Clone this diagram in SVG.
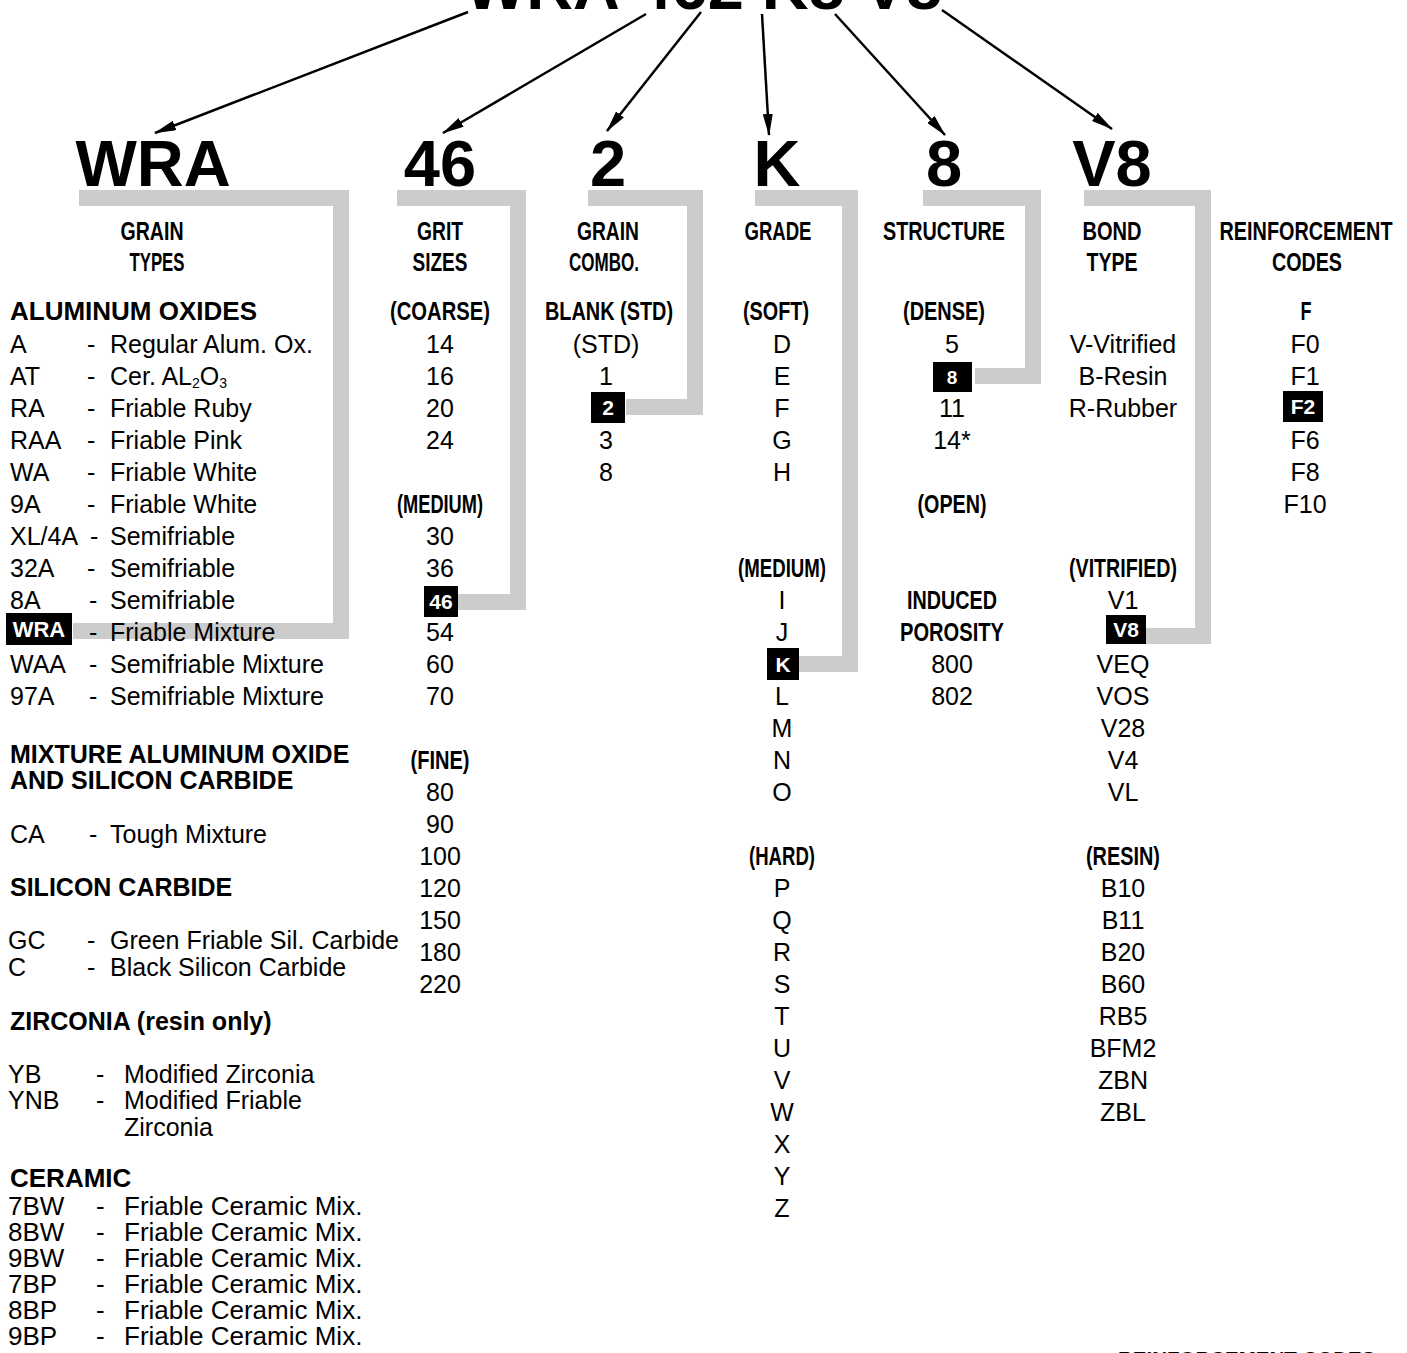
<svg xmlns="http://www.w3.org/2000/svg" width="1407" height="1353" viewBox="0 0 1407 1353">
<style>
text{font-family:"Liberation Sans",Arial,Helvetica,sans-serif;fill:#000}
.b{font-size:25px}
.m{font-size:25px;text-anchor:middle}
.s{font-size:25px;font-weight:bold}
.c{font-size:25px;font-weight:bold;text-anchor:middle}
.big{font-size:65px;font-weight:bold;text-anchor:middle}
.hl{font-size:21px;font-weight:bold;text-anchor:middle;fill:#fff}
.br{fill:none;stroke:#cccccc;stroke-width:16;stroke-linejoin:miter}
.ar{fill:none;stroke:#000;stroke-width:2.5}
</style>
<defs>
<marker id="ah" viewBox="0 0 22 10" refX="21" refY="5" markerWidth="22" markerHeight="10" markerUnits="userSpaceOnUse" orient="auto">
<path d="M0,0 L22,5 L0,10 z" fill="#000"/>
</marker>
</defs>
<rect width="1407" height="1353" fill="#fff"/>

<g id="connectors">
<polyline class="br" points="79,198 341,198 341,631 73,631"/>
<polyline class="br" points="397,198 518,198 518,602 458,602"/>
<polyline class="br" points="588,198 695,198 695,407 626,407"/>
<polyline class="br" points="755,198 850,198 850,664 799,664"/>
<polyline class="br" points="923,198 1033,198 1033,376 975,376"/>
<polyline class="br" points="1084,198 1203,198 1203,636 1146,636"/>
<line class="ar" x1="468" y1="12" x2="155" y2="133" marker-end="url(#ah)"/>
<line class="ar" x1="646" y1="14" x2="443" y2="133" marker-end="url(#ah)"/>
<line class="ar" x1="701" y1="12" x2="607" y2="131" marker-end="url(#ah)"/>
<line class="ar" x1="762" y1="14" x2="769" y2="135" marker-end="url(#ah)"/>
<line class="ar" x1="835" y1="14" x2="945" y2="135" marker-end="url(#ah)"/>
<line class="ar" x1="942" y1="10" x2="1112" y2="129" marker-end="url(#ah)"/>
</g>

<g id="title">
<text x="465" y="9" style="font-size:64px;font-weight:bold" textLength="477" lengthAdjust="spacingAndGlyphs">WRA 462 K8 V8</text>
</g>

<g id="col-grain">
<text class="big" x="153" y="186">WRA</text>
<text class="c" x="152" y="240" textLength="63" lengthAdjust="spacingAndGlyphs">GRAIN</text>
<text class="c" x="157" y="271" textLength="55" lengthAdjust="spacingAndGlyphs">TYPES</text>
<text class="s" x="10" y="320" style="font-size:26px">ALUMINUM OXIDES</text>
<text class="b" x="10" y="353">A</text><text class="b" x="87" y="353">-</text><text class="b" x="110" y="353">Regular Alum. Ox.</text>
<text class="b" x="10" y="385">AT</text><text class="b" x="87" y="385">-</text><text class="b" x="110" y="385">Cer. AL<tspan font-size="14" dy="3">2</tspan><tspan dy="-3">O</tspan><tspan font-size="14" dy="3">3</tspan></text>
<text class="b" x="10" y="417">RA</text><text class="b" x="87" y="417">-</text><text class="b" x="110" y="417">Friable Ruby</text>
<text class="b" x="10" y="449">RAA</text><text class="b" x="87" y="449">-</text><text class="b" x="110" y="449">Friable Pink</text>
<text class="b" x="10" y="481">WA</text><text class="b" x="87" y="481">-</text><text class="b" x="110" y="481">Friable White</text>
<text class="b" x="10" y="513">9A</text><text class="b" x="87" y="513">-</text><text class="b" x="110" y="513">Friable White</text>
<text class="b" x="10" y="545">XL/4A</text><text class="b" x="90" y="545">-</text><text class="b" x="110" y="545">Semifriable</text>
<text class="b" x="10" y="577">32A</text><text class="b" x="87" y="577">-</text><text class="b" x="110" y="577">Semifriable</text>
<text class="b" x="10" y="609">8A</text><text class="b" x="89" y="609">-</text><text class="b" x="110" y="609">Semifriable</text>
<rect x="6" y="613" width="66" height="32" fill="#000"/>
<text class="hl" x="39" y="637" style="font-size:22px">WRA</text><text class="b" x="89" y="641">-</text><text class="b" x="110" y="641">Friable Mixture</text>
<text class="b" x="10" y="673">WAA</text><text class="b" x="89" y="673">-</text><text class="b" x="110" y="673">Semifriable Mixture</text>
<text class="b" x="10" y="705">97A</text><text class="b" x="89" y="705">-</text><text class="b" x="110" y="705">Semifriable Mixture</text>
<text class="s" x="10" y="763">MIXTURE ALUMINUM OXIDE</text>
<text class="s" x="10" y="789">AND SILICON CARBIDE</text>
<text class="b" x="10" y="843">CA</text><text class="b" x="89" y="843">-</text><text class="b" x="110" y="843">Tough Mixture</text>
<text class="s" x="10" y="896">SILICON CARBIDE</text>
<text class="b" x="8" y="949">GC</text><text class="b" x="87" y="949">-</text><text class="b" x="110" y="949">Green Friable Sil. Carbide</text>
<text class="b" x="8" y="976">C</text><text class="b" x="87" y="976">-</text><text class="b" x="110" y="976">Black Silicon Carbide</text>
<text class="s" x="10" y="1030">ZIRCONIA (resin only)</text>
<text class="b" x="8" y="1083">YB</text><text class="b" x="96" y="1083">-</text><text class="b" x="124" y="1083">Modified Zirconia</text>
<text class="b" x="8" y="1109">YNB</text><text class="b" x="96" y="1109">-</text><text class="b" x="124" y="1109">Modified Friable</text>
<text class="b" x="124" y="1136">Zirconia</text>
<text class="s" x="10" y="1187" style="font-size:26px">CERAMIC</text>
<text class="b" x="8" y="1215" style="font-size:26px">7BW</text><text class="b" x="96" y="1215" style="font-size:26px">-</text><text class="b" x="124" y="1215" style="font-size:26px">Friable Ceramic Mix.</text>
<text class="b" x="8" y="1241" style="font-size:26px">8BW</text><text class="b" x="96" y="1241" style="font-size:26px">-</text><text class="b" x="124" y="1241" style="font-size:26px">Friable Ceramic Mix.</text>
<text class="b" x="8" y="1267" style="font-size:26px">9BW</text><text class="b" x="96" y="1267" style="font-size:26px">-</text><text class="b" x="124" y="1267" style="font-size:26px">Friable Ceramic Mix.</text>
<text class="b" x="8" y="1293" style="font-size:26px">7BP</text><text class="b" x="96" y="1293" style="font-size:26px">-</text><text class="b" x="124" y="1293" style="font-size:26px">Friable Ceramic Mix.</text>
<text class="b" x="8" y="1319" style="font-size:26px">8BP</text><text class="b" x="96" y="1319" style="font-size:26px">-</text><text class="b" x="124" y="1319" style="font-size:26px">Friable Ceramic Mix.</text>
<text class="b" x="8" y="1345" style="font-size:26px">9BP</text><text class="b" x="96" y="1345" style="font-size:26px">-</text><text class="b" x="124" y="1345" style="font-size:26px">Friable Ceramic Mix.</text>
</g>

<g id="col-grit">
<text class="big" x="440" y="186">46</text>
<text class="c" x="440" y="240" textLength="46" lengthAdjust="spacingAndGlyphs">GRIT</text>
<text class="c" x="440" y="271" textLength="55" lengthAdjust="spacingAndGlyphs">SIZES</text>
<text class="c" x="440" y="320" textLength="100" lengthAdjust="spacingAndGlyphs">(COARSE)</text>
<text class="m" x="440" y="353">14</text>
<text class="m" x="440" y="385">16</text>
<text class="m" x="440" y="417">20</text>
<text class="m" x="440" y="449">24</text>
<text class="c" x="440" y="513" textLength="86" lengthAdjust="spacingAndGlyphs">(MEDIUM)</text>
<text class="m" x="440" y="545">30</text>
<text class="m" x="440" y="577">36</text>
<rect x="424" y="586" width="34" height="31" fill="#000"/>
<text class="hl" x="441" y="609">46</text>
<text class="m" x="440" y="641">54</text>
<text class="m" x="440" y="673">60</text>
<text class="m" x="440" y="705">70</text>
<text class="c" x="440" y="769" textLength="59" lengthAdjust="spacingAndGlyphs">(FINE)</text>
<text class="m" x="440" y="801">80</text>
<text class="m" x="440" y="833">90</text>
<text class="m" x="440" y="865">100</text>
<text class="m" x="440" y="897">120</text>
<text class="m" x="440" y="929">150</text>
<text class="m" x="440" y="961">180</text>
<text class="m" x="440" y="993">220</text>
</g>

<g id="col-combo">
<text class="big" x="608" y="186">2</text>
<text class="c" x="608" y="240" textLength="62" lengthAdjust="spacingAndGlyphs">GRAIN</text>
<text class="c" x="604" y="271" textLength="70" lengthAdjust="spacingAndGlyphs">COMBO.</text>
<text class="c" x="609" y="320" textLength="128" lengthAdjust="spacingAndGlyphs">BLANK (STD)</text>
<text class="m" x="606" y="353">(STD)</text>
<text class="m" x="606" y="385">1</text>
<rect x="591" y="392" width="34" height="31" fill="#000"/>
<text class="hl" x="608" y="415">2</text>
<text class="m" x="606" y="449">3</text>
<text class="m" x="606" y="481">8</text>
</g>

<g id="col-grade">
<text class="big" x="777" y="186">K</text>
<text class="c" x="778" y="240" textLength="67" lengthAdjust="spacingAndGlyphs">GRADE</text>
<text class="c" x="776" y="320" textLength="66" lengthAdjust="spacingAndGlyphs">(SOFT)</text>
<text class="m" x="782" y="353">D</text>
<text class="m" x="782" y="385">E</text>
<text class="m" x="782" y="417">F</text>
<text class="m" x="782" y="449">G</text>
<text class="m" x="782" y="481">H</text>
<text class="c" x="782" y="577" textLength="88" lengthAdjust="spacingAndGlyphs">(MEDIUM)</text>
<text class="m" x="782" y="609">I</text>
<text class="m" x="782" y="641">J</text>
<rect x="767" y="648" width="32" height="32" fill="#000"/>
<text class="hl" x="783" y="672">K</text>
<text class="m" x="782" y="705">L</text>
<text class="m" x="782" y="737">M</text>
<text class="m" x="782" y="769">N</text>
<text class="m" x="782" y="801">O</text>
<text class="c" x="782" y="865" textLength="66" lengthAdjust="spacingAndGlyphs">(HARD)</text>
<text class="m" x="782" y="897">P</text>
<text class="m" x="782" y="929">Q</text>
<text class="m" x="782" y="961">R</text>
<text class="m" x="782" y="993">S</text>
<text class="m" x="782" y="1025">T</text>
<text class="m" x="782" y="1057">U</text>
<text class="m" x="782" y="1089">V</text>
<text class="m" x="782" y="1121">W</text>
<text class="m" x="782" y="1153">X</text>
<text class="m" x="782" y="1185">Y</text>
<text class="m" x="782" y="1217">Z</text>
</g>

<g id="col-structure">
<text class="big" x="944" y="186">8</text>
<text class="c" x="944" y="240" textLength="122" lengthAdjust="spacingAndGlyphs">STRUCTURE</text>
<text class="c" x="944" y="320" textLength="82" lengthAdjust="spacingAndGlyphs">(DENSE)</text>
<text class="m" x="952" y="353">5</text>
<rect x="933" y="362" width="39" height="30" fill="#000"/>
<text class="hl" x="952" y="384" style="font-size:19px">8</text>
<text class="m" x="952" y="417">11</text>
<text class="m" x="952" y="449">14*</text>
<text class="c" x="952" y="513" textLength="69" lengthAdjust="spacingAndGlyphs">(OPEN)</text>
<text class="c" x="952" y="609" textLength="90" lengthAdjust="spacingAndGlyphs">INDUCED</text>
<text class="c" x="952" y="641" textLength="104" lengthAdjust="spacingAndGlyphs">POROSITY</text>
<text class="m" x="952" y="673">800</text>
<text class="m" x="952" y="705">802</text>
</g>

<g id="col-bond">
<text class="big" x="1112" y="186">V8</text>
<text class="c" x="1112" y="240" textLength="59" lengthAdjust="spacingAndGlyphs">BOND</text>
<text class="c" x="1112" y="271" textLength="51" lengthAdjust="spacingAndGlyphs">TYPE</text>
<text class="m" x="1123" y="353">V-Vitrified</text>
<text class="m" x="1123" y="385">B-Resin</text>
<text class="m" x="1123" y="417">R-Rubber</text>
<text class="c" x="1123" y="577" textLength="108" lengthAdjust="spacingAndGlyphs">(VITRIFIED)</text>
<text class="m" x="1123" y="609">V1</text>
<rect x="1106" y="615" width="40" height="29" fill="#000"/>
<text class="hl" x="1126" y="637">V8</text>
<text class="m" x="1123" y="673">VEQ</text>
<text class="m" x="1123" y="705">VOS</text>
<text class="m" x="1123" y="737">V28</text>
<text class="m" x="1123" y="769">V4</text>
<text class="m" x="1123" y="801">VL</text>
<text class="c" x="1123" y="865" textLength="74" lengthAdjust="spacingAndGlyphs">(RESIN)</text>
<text class="m" x="1123" y="897">B10</text>
<text class="m" x="1123" y="929">B11</text>
<text class="m" x="1123" y="961">B20</text>
<text class="m" x="1123" y="993">B60</text>
<text class="m" x="1123" y="1025">RB5</text>
<text class="m" x="1123" y="1057">BFM2</text>
<text class="m" x="1123" y="1089">ZBN</text>
<text class="m" x="1123" y="1121">ZBL</text>
</g>

<g id="col-reinforcement">
<text class="c" x="1306" y="240" textLength="173" lengthAdjust="spacingAndGlyphs">REINFORCEMENT</text>
<text class="c" x="1307" y="271" textLength="70" lengthAdjust="spacingAndGlyphs">CODES</text>
<text class="c" x="1306" y="320" textLength="11" lengthAdjust="spacingAndGlyphs">F</text>
<text class="m" x="1305" y="353">F0</text>
<text class="m" x="1305" y="385">F1</text>
<rect x="1283" y="391" width="40" height="31" fill="#000"/>
<text class="hl" x="1303" y="414">F2</text>
<text class="m" x="1305" y="449">F6</text>
<text class="m" x="1305" y="481">F8</text>
<text class="m" x="1305" y="513">F10</text>
<text x="1118" y="1366" style="font-size:20.5px;font-weight:bold">REINFORCEMENT CODES</text>
</g>
</svg>
